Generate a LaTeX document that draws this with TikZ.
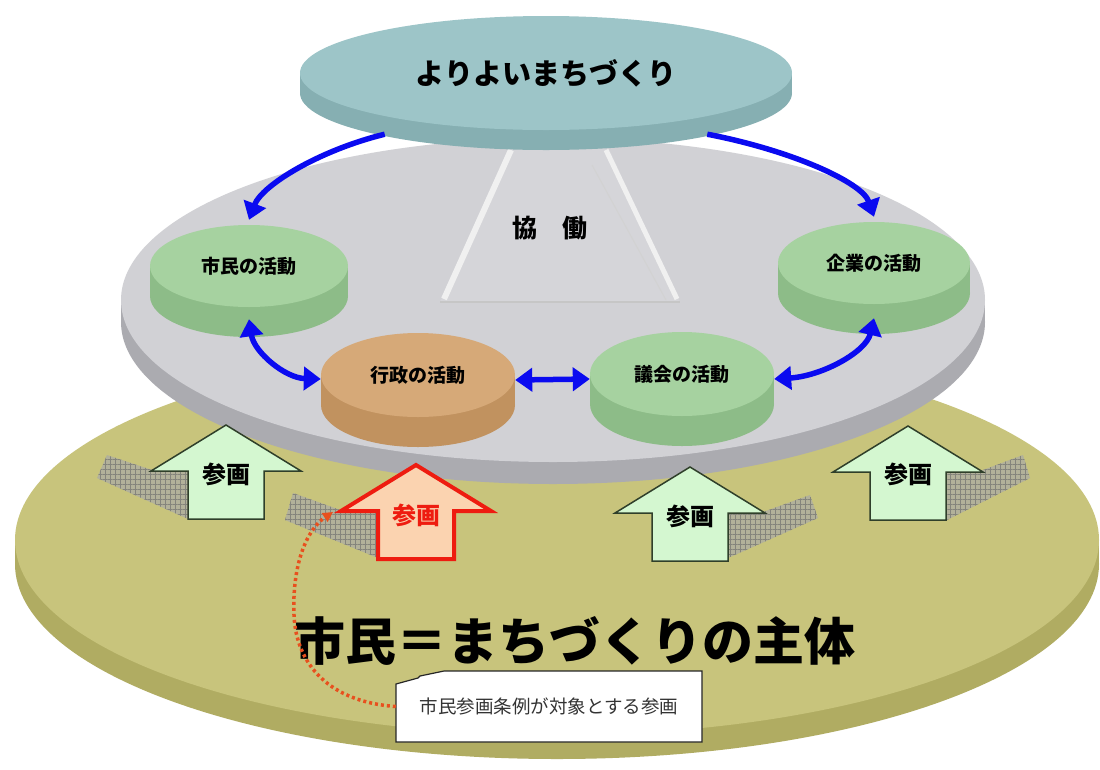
\documentclass[tikz,border=0pt]{standalone}
\usepackage{fontspec}
\newfontfamily\jp{Noto Sans CJK JP}
\usetikzlibrary{shapes.geometric,arrows.meta,patterns.meta}
\definecolor{oliveface}{HTML}{C8C47C}
\definecolor{oliveside}{HTML}{B0AC62}
\definecolor{grayface}{HTML}{D1D1D5}
\definecolor{grayside}{HTML}{ABABB0}
\definecolor{tealface}{HTML}{9DC5C8}
\definecolor{tealside}{HTML}{86AFB2}
\definecolor{greenface}{HTML}{A6D2A0}
\definecolor{greenside}{HTML}{8DBC88}
\definecolor{brownface}{HTML}{D6A978}
\definecolor{brownside}{HTML}{C1925F}
\definecolor{arrowblue}{HTML}{0A0AF0}
\definecolor{arrowfill}{HTML}{D4F7D0}
\definecolor{arrowedge}{HTML}{2F3F2A}
\definecolor{peach}{HTML}{FBD3B0}
\definecolor{redline}{HTML}{EE1C10}
\definecolor{dotred}{HTML}{E8501E}
\definecolor{shadowfill}{HTML}{B2B19A}
\definecolor{shadowgrid}{HTML}{84847C}
\definecolor{pyrfill}{HTML}{D5D5D9}
\newcommand\cylside[6]{%
  \fill[#6] (#1-#3,#2) rectangle (#1+#3,#2+#5);
  \fill[#6] (#1,#2+#5) ellipse[x radius=#3pt, y radius=#4pt];}
\tikzset{
  disk/.style={ellipse, inner sep=0pt, text=black,
    font=\jp\bfseries\fontsize{19}{19}\selectfont},
  barr/.style={draw=arrowblue, line width=5.5pt, -{Triangle[length=17pt,width=23pt]}},
  dbarr/.style={draw=arrowblue, line width=5.5pt, {Triangle[length=17pt,width=23pt]}-{Triangle[length=17pt,width=23pt]}},
  lbl/.style={font=\jp\bfseries\fontsize{24}{24}\selectfont, text=black, inner sep=0pt},
  shadowhatch/.style={fill=shadowfill, postaction={pattern={Hatch[angle=0,distance=5pt,line width=0.5pt]}, pattern color=shadowgrid}},
  uparrow/.pic={\path[pic actions] (0,0) -- (75,46) -- (38,46) -- (38,94) -- (-38,94) -- (-38,46) -- (-75,46) -- cycle;},
  greenarrow/.style={draw=arrowedge, fill=arrowfill, line width=1.5pt, line join=miter},
  redarrow/.style={draw=redline, fill=peach, line width=4pt, line join=miter},
  dotline/.style={draw=dotred, line width=3.5pt, dash pattern=on 3pt off 3pt, -{Triangle[length=10pt,width=10pt]}},
}
\begin{document}
\begin{tikzpicture}[x=1pt,y=-1pt]
\useasboundingbox (0,0) rectangle (1100,769);
\clip (0,0) rectangle (1100,769);
\fill[white] (0,0) rectangle (1100,769);
% ground disk
\cylside{557}{540}{542}{195}{24}{oliveside}
\fill[oliveface] (557,540) ellipse[x radius=542pt, y radius=195pt];
% gray disk
\cylside{553}{300}{432}{162}{22}{grayside}
\fill[grayface] (553,300) ellipse[x radius=432pt, y radius=162pt];
% pyramid
\fill[pyrfill] (512,140) -- (605,140) -- (680,302) -- (440,302) -- cycle;
\draw[white!88!gray, line width=6pt] (511,150) -- (444,299);
\draw[white!88!gray, line width=5pt] (606,150) -- (677,299);
\draw[gray!35, line width=1pt] (592,165) -- (666,300);
\draw[gray!45, line width=1.2pt] (440,302) -- (680,302);
\node[font=\jp\bfseries\fontsize{25}{25}\selectfont] (kyodo) at (550,228) {協　働};
% top disk
\cylside{546}{73}{246}{57}{20}{tealside}
\node[disk, fill=tealface, minimum width=492pt, minimum height=114pt,
  font=\jp\bfseries\fontsize{29}{29}\selectfont] (top) at (546,73) {よりよいまちづくり};
% activity disks
\cylside{249}{266}{99}{41}{30}{greenside}
\node[disk, fill=greenface, minimum width=198pt, minimum height=82pt] (shimin) at (249,266) {市民の活動};
\cylside{874}{263}{96}{41}{30}{greenside}
\node[disk, fill=greenface, minimum width=192pt, minimum height=82pt] (kigyo) at (874,263) {企業の活動};
\cylside{418}{375}{97}{42}{30}{brownside}
\node[disk, fill=brownface, minimum width=194pt, minimum height=84pt] (gyosei) at (418,375) {行政の活動};
\cylside{682}{374}{92}{42}{30}{greenside}
\node[disk, fill=greenface, minimum width=184pt, minimum height=84pt] (gikai) at (682,374) {議会の活動};
% blue connectors
\draw[barr] ([yshift=-18pt]top.195) .. controls (320,150) and (262,185) .. ([yshift=5pt]shimin.north);
\draw[barr] ([yshift=-18pt]top.345) .. controls (790,150) and (862,182) .. ([yshift=5pt]kigyo.north);
\draw[dbarr] ([yshift=-12pt]shimin.south) .. controls (254,352) and (285,378) .. ([yshift=-4pt]gyosei.west);
\draw[dbarr] ([yshift=-5pt]gyosei.east) -- ([yshift=-5pt]gikai.west);
\draw[dbarr] ([yshift=-5pt]gikai.east) .. controls (822,376) and (866,352) .. ([yshift=-14pt]kigyo.south);
% shadows
\fill[shadowhatch] (107,455) -- (152,470) -- (188,470) -- (188,519) -- (97,478) -- cycle;
\fill[shadowhatch] (293,493) -- (343,511) -- (378,511) -- (378,558) -- (285,520) -- cycle;
\fill[shadowhatch] (728,512) -- (763,512) -- (810,495) -- (818,518) -- (728,558) -- cycle;
\fill[shadowhatch] (947,470) -- (983,470) -- (1023,455) -- (1030,478) -- (947,520) -- cycle;
% participation arrows
\pic[greenarrow] at (226,425) {uparrow};
\node[lbl] (p1) at (226,474) {参画};
\pic[redarrow] at (416,465) {uparrow};
\node[lbl, text=redline] (p2) at (416,515) {参画};
\pic[greenarrow] at (690,467) {uparrow};
\node[lbl] (p3) at (690,516) {参画};
\pic[greenarrow] at (908,426) {uparrow};
\node[lbl] (p4) at (908,474) {参画};
\coordinate (redtip) at (333,512);
% main statement
\node[font=\jp\bfseries\fontsize{51}{51}\selectfont, inner sep=0pt] (main) at (575,641) {市民＝まちづくりの主体};
% callout
\filldraw[fill=white, draw=black!85, line width=1.2pt] (396,742) -- (396,684) -- (418,678) -- (420,676) -- (444,671) -- (702,671) -- (702,742) -- cycle;
\node[font=\jp\fontsize{18.5}{18.5}\selectfont, text=black!80, minimum width=306pt, minimum height=71pt, inner sep=0pt] (note) at (549,706.5) {市民参画条例が対象とする参画};
\draw[dotline] (note.west) .. controls (330,702) and (296,665) .. (294,615) .. controls (292,566) and (306,530) .. (redtip);
\end{tikzpicture}
\end{document}
